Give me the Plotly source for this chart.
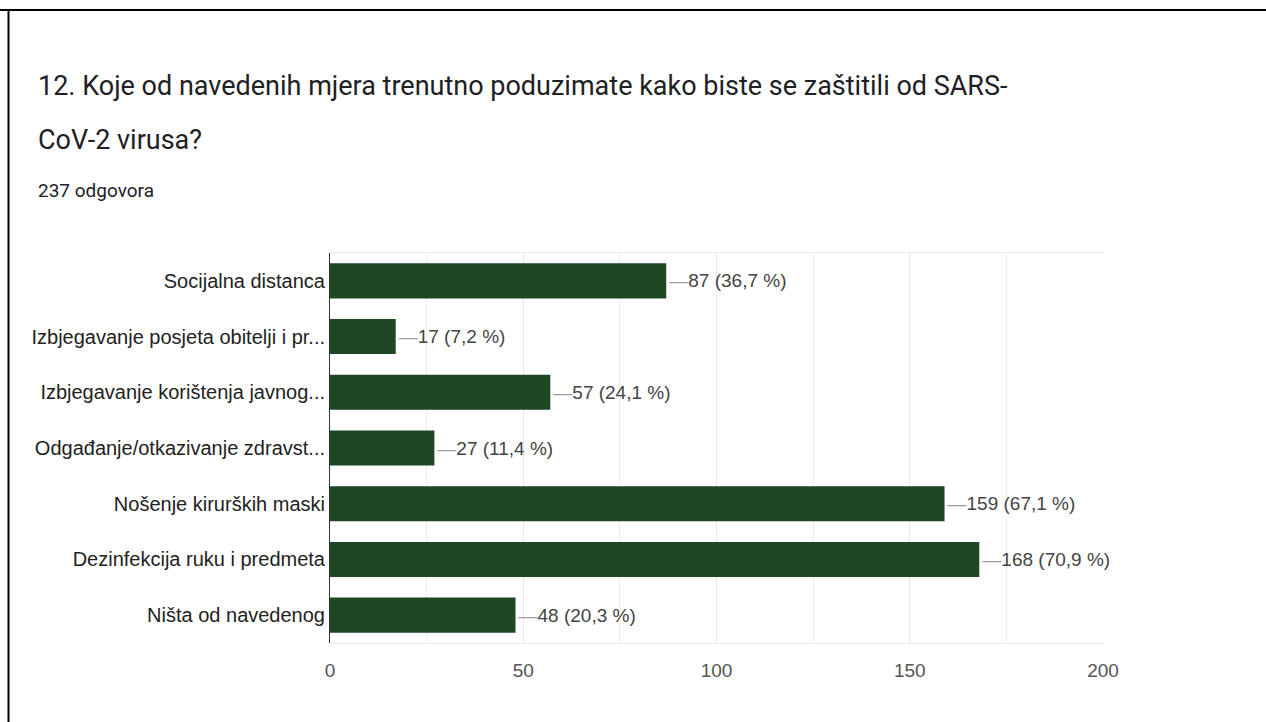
import plotly.graph_objects as go

categories = [
    "Socijalna distanca",
    "Izbjegavanje posjeta obitelji i pr...",
    "Izbjegavanje korištenja javnog...",
    "Odgađanje/otkazivanje zdravst...",
    "Nošenje kirurških maski",
    "Dezinfekcija ruku i predmeta",
    "Ništa od navedenog",
]
counts = [87, 17, 57, 27, 159, 168, 48]
percents = ["36,7", "7,2", "24,1", "11,4", "67,1", "70,9", "20,3"]

title_lines = [
    "12. Koje od navedenih mjera trenutno poduzimate kako biste se zaštitili od SARS-",
    "CoV-2 virusa?",
]
subtitle = "237 odgovora"

W, H = 1266, 722
L, R, T, B = 330, 163, 253, 79
pw, ph = W - L - R, H - T - B


def px(x):
    return (x - L) / pw


def py(y):
    return (H - B - y) / ph


labels = [f'<span style="color:#9e9e9e">—</span>{c} ({p} %)' for c, p in zip(counts, percents)]

fig = go.Figure(go.Bar(
    x=counts,
    y=categories,
    orientation="h",
    marker=dict(color="#1f4723", line=dict(width=0)),
    text=labels,
    textposition="outside",
    textfont=dict(family="Arial, Liberation Sans", size=19, color="#444444"),
    cliponaxis=False,
))

fig.update_layout(
    width=W, height=H,
    margin=dict(l=L, r=R, t=T, b=B),
    paper_bgcolor="white", plot_bgcolor="white",
    bargap=0.37,
    showlegend=False,
    hovermode=False,
    dragmode=False,
    font=dict(family="Arial, Liberation Sans", color="#222222"),
)

fig.update_xaxes(
    range=[0, 200],
    tickvals=[0, 50, 100, 150, 200],
    showgrid=True, gridcolor="#e8e8e8", gridwidth=1,
    minor=dict(dtick=25, showgrid=True, gridcolor="#ededed"),
    zeroline=False,
    showline=True, linecolor="#ececec", mirror=True,
    tickfont=dict(size=19, color="#555555"),
    ticklabelstandoff=10,
)
fig.update_yaxes(
    autorange="reversed",
    showgrid=False, zeroline=False,
    showline=True, linecolor="#333333", linewidth=1,
    tickfont=dict(size=20, color="#222222"),
    ticks="", ticklabelstandoff=0,
)

fig.add_annotation(x=px(36), y=py(86), xref="paper", yref="paper", text=title_lines[0],
                   showarrow=False, xanchor="left", yanchor="middle",
                   font=dict(family="Roboto", size=27, color="#202124"))
fig.add_annotation(x=px(36), y=py(140), xref="paper", yref="paper", text=title_lines[1],
                   showarrow=False, xanchor="left", yanchor="middle",
                   font=dict(family="Roboto", size=27, color="#202124"))
fig.add_annotation(x=px(36), y=py(191), xref="paper", yref="paper", text=subtitle,
                   showarrow=False, xanchor="left", yanchor="middle",
                   font=dict(family="Roboto", size=19, color="#202124"))

# frame edges visible in the screenshot (top and left only)
fig.add_shape(type="line", xref="paper", yref="paper", x0=px(0), x1=px(W), y0=py(10), y1=py(10),
              line=dict(color="black", width=2))
fig.add_shape(type="line", xref="paper", yref="paper", x0=px(8.5), x1=px(8.5), y0=py(10), y1=py(H),
              line=dict(color="black", width=2))

fig.write_html(
    "out.html",
    config={"displayModeBar": False, "staticPlot": True},
    post_script=(
        "document.body.style.margin='0';"
        "document.body.style.overflow='hidden';"
        "document.documentElement.style.overflow='hidden';"
    ),
)
